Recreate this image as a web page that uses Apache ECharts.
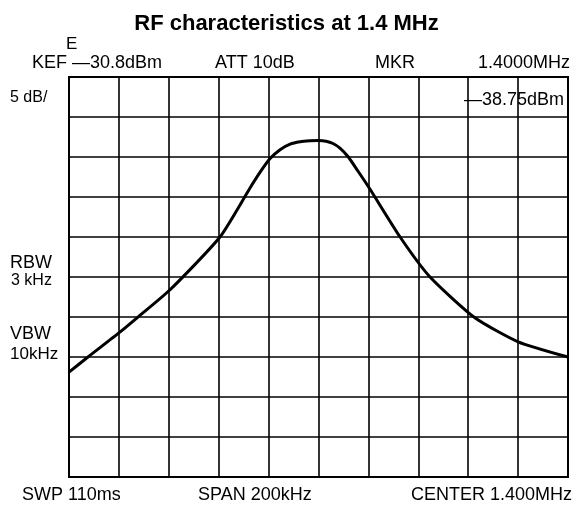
<!DOCTYPE html>
<html>
<head>
<meta charset="utf-8">
<script src="https://cdn.jsdelivr.net/npm/echarts@6/dist/echarts.min.js"></script>
<style>
html,body{margin:0;padding:0;background:#fff;}
#c{width:573px;height:506px;}
</style>
</head>
<body>
<div id="c"></div>
<script>
// Frequency (MHz) of trace points
const freqMHz = [1.300, 1.3076, 1.3204, 1.3273, 1.3405, 1.3605, 1.3725, 1.3766, 1.3806, 1.3846, 1.3886, 1.3926, 1.3966, 1.3998, 1.4030, 1.4058, 1.4086, 1.4118, 1.4158, 1.4206, 1.4327, 1.4447, 1.4627, 1.480, 1.500];
// Level (dBm) of trace points
const levelDBm = [-67.7, -65.8, -62.7, -60.9, -57.4, -50.8, -44.7, -42.7, -41.0, -39.9, -39.2, -38.9, -38.78, -38.75, -38.83, -39.11, -39.68, -40.74, -42.55, -44.8, -50.8, -55.8, -60.9, -63.9, -65.8];
const refLevel = -30.8;   // dBm, top of screen
const dbPerDiv = 5;
const divisions = 10;
const centerMHz = 1.4;
const spanKHz = 200;

const data = freqMHz.map((f, i) => [f * 1000, levelDBm[i] - refLevel]);

const chart = echarts.init(document.getElementById('c'), null, {renderer: 'canvas'});
const font = 'Liberation Sans';
const txt = (x, y, text, align = 'left', size = 18) => ({
  type: 'text', x, y,
  style: {text, font: `${size}px "${font}"`, fill: '#000', textAlign: align, textVerticalAlign: 'middle'}
});

chart.setOption({
  backgroundColor: '#fff',
  animation: false,
  title: {
    text: 'RF characteristics at 1.4 MHz',
    left: 'center', top: 8,
    textStyle: {fontFamily: font, fontWeight: 'bold', fontSize: 22, color: '#000'}
  },
  grid: {left: 69, top: 77, width: 499, height: 400, show: true, borderColor: '#000', borderWidth: 2, backgroundColor: 'transparent'},
  xAxis: {
    type: 'value',
    min: (centerMHz * 1000 - spanKHz / 2),
    max: (centerMHz * 1000 + spanKHz / 2),
    interval: spanKHz / 10,
    axisLine: {show: false}, axisTick: {show: false}, axisLabel: {show: false},
    splitLine: {show: true, lineStyle: {color: '#000', width: 1.6}}
  },
  yAxis: {
    type: 'value',
    min: -dbPerDiv * divisions, max: 0, interval: dbPerDiv,
    axisLine: {show: false}, axisTick: {show: false}, axisLabel: {show: false},
    splitLine: {show: true, lineStyle: {color: '#000', width: 1.6}}
  },
  series: [{
    type: 'line', data, smooth: 0.2, showSymbol: false,
    lineStyle: {color: '#000', width: 3}
  }],
  graphic: [
    txt(66, 44, 'E', 'left', 17),
    txt(32, 63, 'KEF —30.8dBm'),
    txt(215, 63, 'ATT 10dB'),
    txt(375, 63, 'MKR'),
    txt(570, 63, '1.4000MHz', 'right'),
    txt(10, 98, '5 dB/', 'left', 16),
    txt(564, 100, '—38.75dBm', 'right'),
    txt(10, 263, 'RBW'),
    txt(11, 281, '3 kHz', 'left', 16),
    txt(10, 334, 'VBW'),
    txt(10, 354, '10kHz', 'left', 17),
    txt(22, 495, 'SWP 110ms'),
    txt(198, 495, 'SPAN 200kHz'),
    txt(572, 495, 'CENTER 1.400MHz', 'right')
  ]
});
</script>
</body>
</html>
